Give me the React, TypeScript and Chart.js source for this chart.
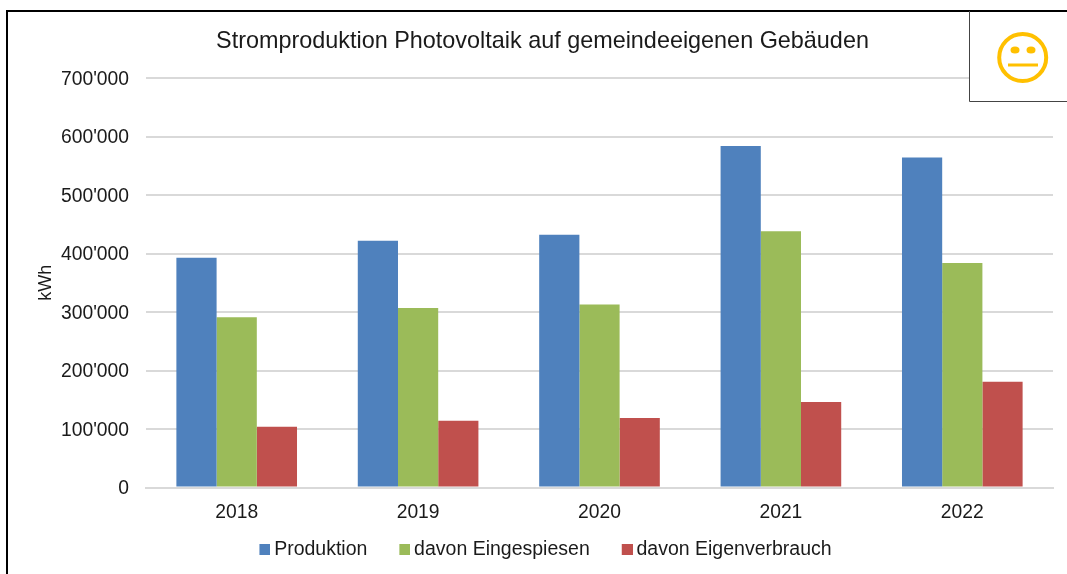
import React, { useEffect, useRef } from "react";
import { Chart, registerables } from "chart.js";

Chart.register(...registerables);

const years = ["2018", "2019", "2020", "2021", "2022"];
const produktion = [393000, 422000, 432000, 584000, 564000];
const eingespiesen = [291000, 307000, 313000, 438000, 384000];
const eigenverbrauch = [104000, 114000, 119000, 146000, 181000];
const colours = ["#4F81BD", "#9BBB59", "#C0504D"];

const FONT = "'Liberation Sans', Arial, sans-serif";
const TEXT = "#1a1a1a";

function marker(colour: string) {
  const cv = document.createElement("canvas");
  cv.width = 23;
  cv.height = 11;
  const c = cv.getContext("2d")!;
  c.fillStyle = colour;
  c.fillRect(12, 0, 11, 11);
  return cv;
}

const framePlugin = {
  id: "frame",
  afterLayout(chart: any) {
    chart.legend.top -= 8;
    chart.legend.bottom -= 8;
  },
  afterDraw(chart: any) {
    const c = chart.ctx;
    c.save();
    // smiley box background
    c.fillStyle = "#fff";
    c.fillRect(970, 12, 97, 89);
    // outer frame
    c.strokeStyle = "#000";
    c.lineWidth = 2;
    c.beginPath();
    c.moveTo(7, 574);
    c.lineTo(7, 11);
    c.lineTo(1067, 11);
    c.stroke();
    // smiley box
    c.strokeStyle = "#444";
    c.lineWidth = 1;
    c.beginPath();
    c.moveTo(969.5, 11);
    c.lineTo(969.5, 101.5);
    c.lineTo(1067, 101.5);
    c.stroke();
    // smiley
    c.strokeStyle = "#FFC000";
    c.fillStyle = "#FFC000";
    c.lineWidth = 4;
    c.beginPath();
    c.arc(1022.7, 57.5, 23.5, 0, Math.PI * 2);
    c.stroke();
    c.beginPath();
    c.ellipse(1015, 50, 4.5, 3.5, 0, 0, Math.PI * 2);
    c.fill();
    c.beginPath();
    c.ellipse(1031, 50, 4.5, 3.5, 0, 0, Math.PI * 2);
    c.fill();
    c.lineWidth = 3;
    c.beginPath();
    c.moveTo(1008, 65);
    c.lineTo(1038, 65);
    c.stroke();
    c.restore();
  },
};

export default function App() {
  const ref = useRef<HTMLCanvasElement>(null);
  useEffect(() => {
    const markers = colours.map(marker);
    const chart = new Chart(ref.current!, {
      type: "bar",
      data: {
        labels: years,
        datasets: [
          { label: "Produktion", data: produktion, backgroundColor: colours[0] },
          { label: "davon Eingespiesen", data: eingespiesen, backgroundColor: colours[1] },
          { label: "davon Eigenverbrauch", data: eigenverbrauch, backgroundColor: colours[2] },
        ],
      },
      options: {
        responsive: false,
        animation: false,
        layout: { padding: { left: 32, right: 14, top: 0, bottom: -3 } },
        datasets: { bar: { categoryPercentage: 0.665, barPercentage: 1 } },
        plugins: {
          tooltip: { enabled: false },
          title: {
            display: true,
            text: "Stromproduktion Photovoltaik auf gemeindeeigenen Gebäuden",
            color: TEXT,
            font: { family: FONT, size: 23.4, weight: "normal" },
            padding: { top: 28, bottom: 22 },
          },
          legend: {
            position: "bottom",
            labels: {
              color: TEXT,
              font: { family: FONT, size: 19.5 },
              boxWidth: 11,
              boxHeight: 11,
              padding: 26,
              usePointStyle: true,
              generateLabels: (ch: any) =>
                (Chart.defaults.plugins.legend.labels as any)
                  .generateLabels(ch)
                  .map((it: any, i: number) => ({ ...it, pointStyle: markers[i] })),
            },
          },
        },
        scales: {
          x: {
            grid: { display: false, drawTicks: false },
            border: { color: "#D9D9D9", width: 2 },
            ticks: { color: TEXT, font: { family: FONT, size: 19.3 }, padding: 14, maxRotation: 0 },
            afterFit(s: any) { s.height = 34; },
          },
          y: {
            min: 0,
            max: 700000,
            grid: { color: "#D9D9D9", lineWidth: 2, drawTicks: false },
            border: { display: false },
            title: {
              display: true,
              text: "kWh",
              color: TEXT,
              font: { family: FONT, size: 18 },
              padding: { top: 3, bottom: 0 },
            },
            ticks: {
              stepSize: 100000,
              color: TEXT,
              padding: 17,
              labelOffset: 1.5,
              font: { family: FONT, size: 19.3 },
              callback: (v: any) => String(v).replace(/\B(?=(\d{3})+$)/g, "'"),
            },
            afterFit(s: any) { s.width = 114; },
          },
        },
      },
      plugins: [framePlugin],
    } as any);
    return () => chart.destroy();
  }, []);
  return (
    <div style={{ position: "fixed", left: 0, top: 0, width: 1067, height: 574, background: "#fff" }}>
      <canvas ref={ref} width={1067} height={574} style={{ display: "block" }} />
    </div>
  );
}
